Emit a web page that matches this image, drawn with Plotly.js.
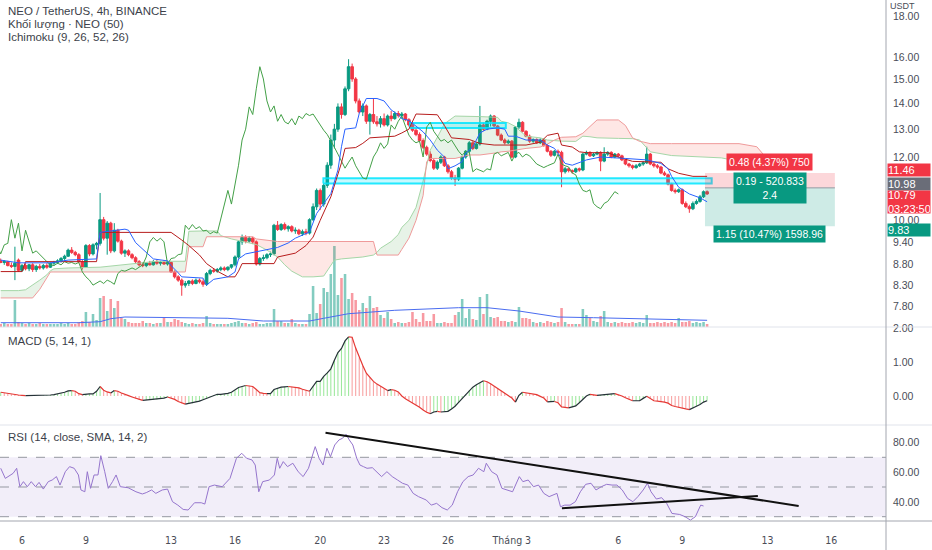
<!DOCTYPE html>
<html><head><meta charset="utf-8">
<script src="https://cdn.plot.ly/plotly-3.0.1.min.js"></script>
<style>html,body{margin:0;padding:0;background:#fff;}#chart{width:932px;height:550px;}</style>
</head><body><div id="chart"></div>
<script>
// ---------- candles (4h bars, bar 0 = 5 Feb 00:00) ----------
const openP=[8.90,8.86,8.88,8.78,8.76,8.92,8.66,8.78,8.70,8.80,8.68,8.76,8.72,8.78,8.74,8.84,8.86,8.90,8.96,9.02,
9.18,9.12,9.06,8.88,8.74,9.30,9.08,9.32,9.36,10.02,9.50,9.92,9.16,9.72,9.42,9.10,9.16,9.06,8.98,8.88,
8.80,8.78,8.84,8.80,8.88,8.84,8.86,8.82,8.86,8.62,8.50,8.42,8.30,8.34,8.40,8.34,8.42,8.38,8.32,8.58,
8.66,8.64,8.68,8.72,8.68,8.74,8.80,9.00,9.40,9.52,9.42,9.50,9.40,8.82,8.96,8.98,9.06,9.08,9.86,9.74,
9.88,9.76,9.82,9.70,9.72,9.62,9.68,9.64,10.02,10.40,10.90,10.48,11.06,11.72,12.60,13.00,13.86,13.56,14.60,15.56,
15.02,14.10,13.66,13.90,13.30,13.56,13.28,13.20,13.40,13.16,13.50,13.40,13.60,13.52,13.58,13.36,13.16,12.96,12.80,12.58,
12.34,12.10,11.88,11.62,11.82,12.00,11.70,11.50,11.30,11.26,11.62,12.00,12.20,12.50,12.30,12.46,13.16,13.00,13.30,13.50,
13.12,12.78,12.60,12.50,12.56,12.00,13.08,13.26,12.92,12.74,12.56,12.62,12.50,12.60,12.40,12.20,12.06,12.20,12.16,11.50,
11.60,11.54,11.50,11.60,11.56,12.10,12.16,12.04,12.10,12.16,11.86,12.10,12.16,12.00,12.10,12.04,11.90,11.76,11.70,11.64,
11.70,11.76,11.80,12.10,11.76,11.70,11.66,11.46,11.40,11.10,10.90,10.86,10.92,10.50,10.40,10.34,10.50,10.56,10.70,10.86];
const highP=[8.96,8.92,8.90,8.86,9.27,8.96,8.82,8.84,8.82,8.84,8.80,8.82,8.82,8.84,8.86,8.90,8.94,9.00,9.06,9.22,
9.26,9.16,9.10,8.92,9.34,9.34,9.36,9.40,10.82,10.10,9.98,9.96,9.92,9.76,9.46,9.20,9.20,9.10,9.02,8.92,
8.86,8.86,8.90,8.92,8.94,8.90,8.92,8.90,8.88,8.66,8.54,8.46,8.40,8.42,8.44,8.46,8.46,8.44,8.62,8.70,
8.72,8.72,8.76,8.76,8.76,8.82,9.04,9.44,9.60,9.58,9.56,9.54,9.44,9.00,9.06,9.10,9.14,9.90,9.98,9.92,
9.94,9.86,9.86,9.80,9.76,9.74,9.76,10.06,10.50,10.96,10.96,11.12,11.82,12.80,13.20,14.00,14.00,14.70,15.90,15.70,
15.10,14.20,14.00,13.96,13.62,14.20,13.50,13.50,13.60,13.56,13.70,13.68,13.70,13.66,13.62,13.42,13.22,13.06,12.88,12.66,
12.40,12.20,11.96,11.88,12.06,12.04,11.76,11.56,11.40,11.66,12.04,12.24,12.56,12.56,12.52,13.90,13.24,13.36,13.56,13.54,
13.16,12.84,12.66,12.62,12.60,13.12,13.40,13.30,12.96,12.80,12.66,12.66,12.66,12.64,12.46,12.24,12.24,12.26,12.22,11.66,
11.64,11.58,11.64,11.64,12.14,12.22,12.20,12.14,12.20,12.20,12.34,12.20,12.20,12.14,12.14,12.08,11.94,11.80,11.74,11.76,
11.80,11.86,12.36,12.14,11.80,11.76,11.70,11.52,11.44,11.14,10.96,10.96,10.96,10.56,10.46,10.56,10.62,10.76,10.90,10.90];
const lowP=[8.84,8.80,8.76,8.72,8.42,8.62,8.62,8.66,8.64,8.62,8.62,8.68,8.68,8.70,8.72,8.78,8.82,8.86,8.90,9.00,
9.08,9.02,8.84,8.68,8.72,9.02,9.04,9.20,9.30,9.44,9.06,9.10,9.12,9.38,9.06,9.00,9.02,8.94,8.84,8.76,
8.74,8.74,8.78,8.78,8.80,8.78,8.80,8.78,8.60,8.46,8.38,8.05,8.24,8.28,8.30,8.32,8.34,8.26,8.28,8.54,
8.60,8.60,8.64,8.64,8.64,8.70,8.76,8.96,9.32,9.36,9.38,9.34,8.78,8.78,8.90,8.94,9.00,9.04,9.70,9.70,
9.72,9.68,9.66,9.62,9.58,9.56,9.58,9.60,9.98,10.30,10.30,10.40,10.98,11.60,12.30,12.90,13.40,13.50,14.50,14.90,
14.00,13.60,13.50,13.20,12.80,13.20,13.10,13.06,13.10,13.10,13.30,13.36,13.44,13.40,13.30,13.10,12.90,12.74,12.52,12.28,
12.04,11.82,11.56,11.56,11.76,11.66,11.44,11.24,11.04,11.20,11.58,11.94,12.14,12.24,12.26,12.40,12.94,12.96,13.10,13.08,
12.74,12.56,12.44,12.46,11.96,11.96,13.00,12.88,12.70,12.50,12.50,12.46,12.46,12.36,12.16,12.00,12.02,12.10,11.00,11.44,
11.48,11.44,11.46,11.50,11.52,12.06,12.00,12.00,12.06,11.52,11.82,12.04,11.96,11.96,11.98,11.86,11.72,11.64,11.58,11.60,
11.66,11.70,11.76,11.72,11.64,11.60,11.42,11.36,11.06,10.86,10.80,10.82,10.46,10.36,10.22,10.30,10.46,10.52,10.66,10.76];
const closeP=[8.86,8.88,8.78,8.76,8.84,8.66,8.78,8.70,8.80,8.68,8.76,8.72,8.78,8.74,8.84,8.86,8.90,8.96,9.02,9.18,
9.12,9.06,8.88,8.74,9.30,9.08,9.32,9.36,10.02,9.50,9.92,9.16,9.72,9.42,9.10,9.16,9.06,8.98,8.88,8.80,
8.78,8.84,8.80,8.88,8.84,8.86,8.82,8.86,8.62,8.50,8.42,8.30,8.34,8.40,8.34,8.42,8.38,8.32,8.58,8.66,
8.64,8.68,8.72,8.68,8.74,8.80,9.00,9.40,9.52,9.42,9.50,9.40,8.82,8.96,8.98,9.06,9.08,9.86,9.74,9.88,
9.76,9.82,9.70,9.72,9.62,9.68,9.64,10.02,10.40,10.90,10.48,11.06,11.72,12.60,13.00,13.86,13.56,14.60,15.56,15.02,
14.10,13.66,13.90,13.30,13.56,13.28,13.20,13.40,13.16,13.50,13.40,13.60,13.52,13.58,13.36,13.16,12.96,12.80,12.58,12.34,
12.10,11.88,11.62,11.82,12.00,11.70,11.50,11.30,11.26,11.62,12.00,12.20,12.50,12.30,12.46,13.16,13.00,13.30,13.50,13.12,
12.78,12.60,12.50,12.56,12.00,13.08,13.26,12.92,12.74,12.56,12.62,12.50,12.60,12.40,12.20,12.06,12.20,12.16,11.50,11.60,
11.54,11.50,11.60,11.56,12.10,12.16,12.04,12.10,12.16,11.86,12.10,12.16,12.00,12.10,12.04,11.90,11.76,11.70,11.64,11.70,
11.76,11.80,12.10,11.76,11.70,11.66,11.46,11.40,11.10,10.90,10.86,10.92,10.50,10.40,10.34,10.50,10.56,10.70,10.86,10.79];
// volume, thousands of NEO
const volumeK=[30,40,30,30,270,50,40,30,40,30, 30,40,30,30,30,30,30,40,30,40,
30,30,50,60,150,50,130,70,290,310, 160,280,190,260,90,80,50,40,40,40,
60,40,40,30,40,40,90,50,50,80, 70,50,40,30,40,30,30,40,110,40,
30,30,30,30,30,40,50,60,40,40, 30,40,50,30,30,40,40,180,60,60,
40,40,80,40,30,30,30,130,410,140, 230,390,350,530,810,320,490,530,280,340,
270,170,240,190,310,190,200,120,90,150, 80,40,50,40,40,50,150,80,50,140,
60,60,130,40,40,50,40,40,120,150, 280,90,180,80,70,300,130,330,100,90,
100,60,60,50,60,50,200,90,90,80, 50,40,50,40,60,50,40,50,190,50,
30,30,30,30,180,120,90,60,50,110, 160,50,40,50,40,50,40,40,50,40,
50,40,120,40,40,50,40,50,40,50, 40,90,50,50,60,40,50,40,50,30];
const volMaBar=[0,22,28,31,35,47,56,64,74,87,91,94,98,102,107,111,129,137,146,152,157,167,176,186,199];
const volMaK=[43,43,53,83,100,93,93,87,60,60,87,110,133,143,160,167,193,193,160,127,100,93,87,77,67];

// ---------- Ichimoku (9, 26, 52, 26) ----------
const tenkanBar=[0,5,14,19,27,28,35,36,38,41,43,47,48,50,51,57,58,60,64,66,67,69,73,78,81,83,87,89,93,95,96,97,100,101,103,106,108,110,112,113,115,117,119,121,123,125,126,128,130,131,133,135,137,140,142,143,145,148,152,154,156,157,159,161,165,169,172,176,182,186,188,189,191,194,197,199];
const tenkanVal=[8.92,8.85,8.85,8.92,8.95,9.66,9.75,9.72,9.38,9.12,8.95,8.90,8.78,8.60,8.50,8.47,8.30,8.44,8.50,8.62,8.95,9.08,9.15,9.25,9.37,9.50,9.67,10.20,10.80,11.56,12.36,13.00,13.05,13.60,14.20,14.20,14.10,13.74,13.55,13.40,13.33,13.10,12.90,12.60,12.24,12.00,11.60,11.70,11.84,12.13,12.35,12.86,13.00,13.05,13.00,12.74,12.74,12.60,12.60,12.42,12.30,12.13,11.78,11.72,11.90,12.00,11.97,11.95,11.90,11.78,11.60,11.35,11.00,10.79,10.67,10.55];
const kijunBar=[0,6,7,27,28,48,51,53,56,58,61,64,66,67,68,77,78,83,86,88,90,93,96,97,100,102,104,111,113,115,117,123,125,127,132,135,139,148,152,154,157,158,161,163,165,171,174,178,186,188,191,195,199];
const kijunVal=[8.63,8.63,8.88,8.88,9.66,9.66,9.45,9.30,9.05,8.83,8.64,8.50,8.50,8.64,8.83,8.83,9.00,9.10,9.30,9.53,10.00,10.70,11.80,12.30,12.33,12.48,12.68,12.74,12.86,13.00,13.58,13.55,13.14,12.68,12.62,12.48,12.42,12.42,12.52,12.77,12.85,12.42,12.35,12.18,12.15,12.15,12.00,11.85,11.82,11.60,11.45,11.35,11.35];
const spanBar=[0,5,7,9,11,13,14,15,19,28,35,41,44,52,53,57,58,61,62,65,71,72,75,77,78,80,82,85,88,91,93,94,96,102,105,106,107,110,112,113,115,117,119,120,121,123,125,128,132,135,140,141,143,145,146,148,152,154,156,158,162,164,166,168,174,176,178,180,181,183,189,203,206,208,213,215,217,224];
const spanA=[8.17,8.17,8.19,8.30,8.42,8.55,8.65,8.70,8.72,8.74,8.80,8.87,8.89,8.89,9.69,9.70,9.70,9.70,9.57,9.48,9.35,9.33,9.18,9.05,9.00,8.80,8.64,8.50,8.50,8.52,8.80,8.92,8.95,9.00,9.05,9.12,9.23,9.41,9.60,9.80,10.00,10.38,11.20,11.70,12.24,12.70,13.20,13.50,13.50,13.48,13.45,13.30,13.24,13.10,12.97,12.74,12.68,12.60,12.58,12.56,12.55,12.74,12.72,12.68,12.66,12.65,12.65,12.60,12.45,12.18,12.05,11.97,11.90,11.88,11.85,11.84,11.83,11.80];
const spanB=[8.00,8.00,8.00,8.00,8.20,8.50,8.62,8.62,8.62,8.62,8.62,8.62,8.62,8.62,9.27,9.27,9.54,9.54,9.54,9.54,9.54,9.48,9.45,9.41,9.41,9.41,9.41,9.41,9.41,9.41,9.41,9.41,9.41,9.41,9.41,9.05,9.05,9.05,9.05,9.20,9.50,10.00,10.74,11.84,11.95,11.95,11.95,11.95,12.07,12.07,12.15,12.18,12.20,12.24,12.26,12.30,12.35,12.45,12.60,12.70,12.72,12.85,13.10,13.35,13.35,13.14,12.68,12.55,12.53,12.47,12.47,12.47,12.47,12.47,12.36,12.07,11.78,11.78];
const laggingShift=25;

// ---------- MACD (5, 14, 1), per bar ----------
const macdVal=[0.11,0.09,0.07,0.05,0.04,0.03,0.02,0.01,0.01,0.01, 0.01,0.01,0.02,0.02,0.03,0.04,0.06,0.08,0.11,0.15,
0.16,0.14,0.07,0.04,0.06,0.06,0.06,0.14,0.28,0.17, 0.12,0.09,0.16,0.14,0.09,0.04,0.01,-0.03,-0.07,-0.11,
-0.13,-0.12,-0.12,-0.11,-0.10,-0.08,-0.06,-0.03,-0.06,-0.10, -0.16,-0.21,-0.24,-0.22,-0.21,-0.18,-0.15,-0.11,-0.07,-0.02,
0.03,0.05,0.05,0.06,0.08,0.11,0.17,0.25,0.28,0.31, 0.30,0.28,0.19,0.10,0.08,0.07,0.07,0.19,0.23,0.26,
0.27,0.28,0.27,0.26,0.24,0.20,0.17,0.14,0.28,0.43, 0.43,0.58,0.68,0.80,1.05,1.28,1.40,1.62,1.74,1.73,
1.41,1.13,0.90,0.67,0.55,0.43,0.35,0.28,0.22,0.16, 0.19,0.17,0.12,0.00,-0.08,-0.14,-0.21,-0.27,-0.33,-0.41,
-0.48,-0.52,-0.47,-0.45,-0.47,-0.46,-0.45,-0.38,-0.30,-0.19, -0.08,0.05,0.17,0.26,0.33,0.39,0.45,0.42,0.36,0.29,
0.22,0.15,0.09,0.02,-0.06,-0.18,0.02,0.11,0.09,0.06, 0.05,0.04,-0.01,-0.06,-0.17,-0.17,-0.16,-0.20,-0.32,-0.34,
-0.35,-0.33,-0.29,-0.20,-0.09,0.00,0.05,0.04,0.02,0.03, 0.06,0.06,0.07,0.07,0.04,0.00,-0.05,-0.10,-0.14,-0.14,
-0.14,-0.07,-0.01,-0.08,-0.14,-0.15,-0.16,-0.18,-0.21,-0.28, -0.31,-0.34,-0.37,-0.38,-0.40,-0.36,-0.30,-0.25,-0.18,-0.14];

// ---------- RSI (14, close, SMA, 14, 2) ----------
const rsiBar=[0,1.3,3.5,4.5,5.4,6.4,7.5,8.6,9.8,10.8, 12,13.4,14.5,15.7,16.7,18.2,19.4,20.7,21.9,22.6,
23.7,24.4,25.3,26.3,27.4,28.2,29.3,30.3,31.5,32.5, 33.7,35.9,38.1,39.9,41,42.5,43.7,45.5,47,48.4,
49.9,51.4,52.8,54.6,56.5,57.5,58.7,60.2,62.4,64.6, 66.4,67.9,69.3,70.8,71.7,72.7,73.8,75.7,77.1,77.9,
78.6,79.6,80.8,82.3,83.8,85.2,86.7,87.5,88.6,89.7, 90.8,91.9,92.9,94.1,95.3,96.3,97.3,98.2,99.2,100.3,
101.2,102.2,103.2,104.7,105.9,107.3,108.8,110.3,111.8,113.2, 114.7,116.2,117.7,119.9,121.3,122.8,124.3,125.8,127.2,128.7,
130.2,131.7,133.1,134.6,136.1,136.8,138.3,139.8,141.2,142.7, 144.2,146.1,147.1,148.6,150.1,151.5,153,154.5,156.7,157.7,
158.9,160.4,161.9,163.3,164.8,166.3,167.7,169.2,170.7,172.2, 173.6,175.1,176.6,178.1,179.5,181,182.2,183.2,184.7,186.2,
187.6,189.1,191.3,192.8,194.3,195.7,197.2,198];
const rsiVal=[62.6,55.8,59.2,62.6,50.2,53.6,50.2,53.6,50.2,53.1, 48.6,53.6,54.7,57.0,51.3,60.3,63.7,62.6,58.1,48.0,
46.8,60.3,49.1,58.1,58.1,71.1,60.3,49.1,53.6,58.1, 50.2,49.5,46.8,45.3,46.2,48.0,45.7,48.0,48.6,40.1,
37.8,34.9,34.5,39.4,39.4,38.5,50.2,51.3,50.2,55.8, 69.3,72.7,69.3,68.2,64.8,46.8,53.6,54.7,58.1,69.3,
62.6,67.1,63.7,66.0,60.3,57.0,62.6,69.3,77.2,69.3, 64.8,76.1,70.4,78.3,81.7,82.8,85.5,81.7,78.3,69.3,
64.8,63.7,62.6,63.0,60.3,57.0,60.3,57.0,54.7,52.5, 51.3,45.7,43.5,41.2,37.8,39.0,36.1,34.5,37.8,46.8,
53.6,57.0,58.1,62.6,60.3,66.0,60.3,58.1,49.1,48.0, 46.8,57.0,53.6,54.7,50.2,51.3,45.7,43.5,45.7,36.7,
37.8,37.8,40.1,46.8,51.8,52.5,48.0,50.2,51.8,51.3, 51.3,48.0,42.3,40.1,43.5,48.0,52.5,46.8,41.9,42.8,
39.0,32.2,31.5,30.0,27.7,30.0,37.8,37.2];
const rsiLevels=[70,50,30];
const rsiTrendBars=[[91.5,224.8],[158.1,213.3]];
const rsiTrendVals=[[86.6,37.2],[35.7,44.0]];

// ---------- drawings ----------
const zoneBar0=[115.3,90.9], zoneBar1=[142.3,200.3], zoneLo=[13.04,11.12], zoneHi=[13.23,11.29];
const posStartBar=198.4, posEndBar=235, posEntry=10.98, posStop=11.46, posTarget=9.83;
const posTexts=['0.48 (4.37%) 750','0.19 - 520.833<br>2.4','1.15 (10.47%) 1598.96'];
const countdown='03:23:50';

// ---------- axes ----------
const dayTickBars=[6,24,48,66,90,108,126,144,174,192,216,234];
const dayTickText=['6','9','13','16','20','23','26','Tháng 3','6','9','13','16'];
const priceTicks=[7.8,8.3,8.8,9.4,10,12,13,14,15,16,18];
const macdTicks=[0,1,2];
const rsiTicks=[40,60,80];
const legendLines=['NEO / TetherUS, 4h, BINANCE','Khối lượng · NEO (50)','Ichimoku (9, 26, 52, 26)'];

// ================= build =================
const N=closeP.length;
const bars=closeP.map((_,i)=>i);
const UP='#089981', DN='#f23645';
const traces=[];
const H=521, W=886; // plot area px
const py=p=>1-p/H;

// cloud fills
(function(){
  let seg=null;
  const push=()=>{ if(seg && seg.x.length>1){
    traces.push({type:'scatter',mode:'none',x:seg.x.concat(seg.x.slice().reverse()),y:seg.a.concat(seg.b.slice().reverse()),
      fill:'toself',fillcolor:seg.up?'rgba(67,160,71,0.13)':'rgba(244,67,54,0.13)',yaxis:'y5',hoverinfo:'skip'});}};
  for(let k=0;k<spanBar.length;k++){
    const up=spanA[k]>=spanB[k];
    if(!seg){seg={up,x:[spanBar[k]],a:[spanA[k]],b:[spanB[k]]};continue;}
    if(up===seg.up){seg.x.push(spanBar[k]);seg.a.push(spanA[k]);seg.b.push(spanB[k]);}
    else{
      const d0=spanA[k-1]-spanB[k-1], d1=spanA[k]-spanB[k], t=d0/(d0-d1);
      const xc=spanBar[k-1]+t*(spanBar[k]-spanBar[k-1]), yc=spanA[k-1]+t*(spanA[k]-spanA[k-1]);
      seg.x.push(xc);seg.a.push(yc);seg.b.push(yc);push();
      seg={up,x:[xc,spanBar[k]],a:[yc,spanA[k]],b:[yc,spanB[k]]};
    }
  }
  push();
})();
traces.push({type:'scatter',mode:'lines',x:spanBar,y:spanA,yaxis:'y5',line:{color:'#A5D6A7',width:1},hoverinfo:'skip'});
traces.push({type:'scatter',mode:'lines',x:spanBar,y:spanB,yaxis:'y5',line:{color:'#EF9A9A',width:1},hoverinfo:'skip'});

// volume
traces.push({type:'bar',x:bars,y:volumeK,yaxis:'y',width:0.72,
  marker:{color:bars.map(i=>closeP[i]>=openP[i]?'rgba(8,153,129,0.5)':'rgba(242,54,69,0.5)'),line:{width:0}},hoverinfo:'skip'});
traces.push({type:'scatter',mode:'lines',x:volMaBar,y:volMaK,yaxis:'y',line:{color:'#4a6cf0',width:1},hoverinfo:'skip'});

// cyan zones
for(let z=0;z<zoneBar0.length;z++){
  traces.push({type:'scatter',mode:'lines',x:[zoneBar0[z],zoneBar1[z],zoneBar1[z],zoneBar0[z],zoneBar0[z]],
    y:[zoneLo[z],zoneLo[z],zoneHi[z],zoneHi[z],zoneLo[z]],yaxis:'y5',fill:'toself',fillcolor:'rgba(0,229,255,0.22)',
    line:{color:'rgba(0,229,255,0.85)',width:2},hoverinfo:'skip'});
}
// position tool
traces.push({type:'scatter',mode:'none',x:[posStartBar,posEndBar,posEndBar,posStartBar],y:[posEntry,posEntry,posStop,posStop],
  yaxis:'y5',fill:'toself',fillcolor:'rgba(242,54,69,0.2)',hoverinfo:'skip'});
traces.push({type:'scatter',mode:'none',x:[posStartBar,posEndBar,posEndBar,posStartBar],y:[posTarget,posTarget,posEntry,posEntry],
  yaxis:'y5',fill:'toself',fillcolor:'rgba(8,153,129,0.2)',hoverinfo:'skip'});
traces.push({type:'scatter',mode:'lines',x:[posStartBar,posEndBar],y:[posEntry,posEntry],yaxis:'y5',line:{color:'#9598a1',width:1},hoverinfo:'skip'});

// ichimoku lines
traces.push({type:'scatter',mode:'lines',x:bars.map(i=>i-laggingShift),y:closeP,yaxis:'y5',line:{color:'#43A047',width:1},hoverinfo:'skip'});
traces.push({type:'scatter',mode:'lines',x:kijunBar,y:kijunVal,yaxis:'y5',line:{color:'#B71C1C',width:1},hoverinfo:'skip'});
traces.push({type:'scatter',mode:'lines',x:tenkanBar,y:tenkanVal,yaxis:'y5',line:{color:'#2962FF',width:1},hoverinfo:'skip'});

// candles
traces.push({type:'candlestick',x:bars,open:openP,high:highP,low:lowP,close:closeP,yaxis:'y5',whiskerwidth:0,
  increasing:{line:{color:UP,width:1},fillcolor:UP},decreasing:{line:{color:DN,width:1},fillcolor:DN},hoverinfo:'skip'});

// MACD
traces.push({type:'bar',x:bars,y:macdVal,yaxis:'y2',width:0.3,
  marker:{color:bars.map(i=>(i===0||macdVal[i]>=macdVal[i-1])?'rgba(60,210,60,0.5)':'rgba(242,70,70,0.5)'),line:{width:0}},hoverinfo:'skip'});
(function(){
  let cur=null;
  for(let i=1;i<N;i++){
    const up=macdVal[i]>=macdVal[i-1];
    if(!cur||cur.up!==up){cur={up,x:[i-1],y:[macdVal[i-1]]};
      traces.push({type:'scatter',mode:'lines',x:cur.x,y:cur.y,yaxis:'y2',line:{color:up?'#263238':'#e53935',width:1.2},hoverinfo:'skip'});}
    cur.x.push(i);cur.y.push(macdVal[i]);
  }
})();

// RSI
traces.push({type:'scatter',mode:'lines',x:rsiBar,y:rsiVal,yaxis:'y3',line:{color:'#9575CD',width:1},hoverinfo:'skip'});
for(let t=0;t<rsiTrendBars.length;t++){
  traces.push({type:'scatter',mode:'lines',x:rsiTrendBars[t],y:rsiTrendVals[t],yaxis:'y3',line:{color:'#111',width:2},hoverinfo:'skip'});
}

const fam='"Liberation Sans", Arial, sans-serif';
const narrow='"Liberation Sans Narrow", "DejaVu Sans Condensed", "Liberation Sans", sans-serif';
const axisCommon={showgrid:false,zeroline:false,showline:false,ticks:'',fixedrange:true,side:'right',anchor:'x',
  tickfont:{family:fam,size:10.5,color:'#4a4d57'},ticklabelstandoff:6};

const shapes=[];
shapes.push({type:'rect',xref:'paper',x0:0,x1:1,yref:'y3',y0:rsiLevels[2],y1:rsiLevels[0],fillcolor:'rgba(126,87,194,0.1)',line:{width:0},layer:'below'});
rsiLevels.forEach(v=>shapes.push({type:'line',xref:'paper',x0:0,x1:1,yref:'y3',y0:v,y1:v,line:{color:'#9598a1',width:1,dash:'dash'},layer:'below'}));
[327,425].forEach(p=>shapes.push({type:'line',xref:'paper',x0:0,x1:932/W,yref:'paper',y0:py(p),y1:py(p),line:{color:'#e0e3eb',width:1}}));
shapes.push({type:'line',xref:'paper',x0:0,x1:932/W,yref:'paper',y0:0,y1:0,line:{color:'#a3a6af',width:1}});
shapes.push({type:'line',xref:'paper',x0:1,x1:1,yref:'paper',y0:py(550),y1:1,line:{color:'#a3a6af',width:1}});
const lastClose=closeP[N-1];
shapes.push({type:'line',xref:'paper',x0:0,x1:1,yref:'y5',y0:Math.log10(lastClose),y1:Math.log10(lastClose),line:{color:'rgba(242,54,69,0.7)',width:1,dash:'dot'}});

const ann=[];
legendLines.forEach((t,k)=>ann.push({xref:'paper',yref:'paper',x:6/W,y:py(11+13*k),xanchor:'left',yanchor:'middle',text:t,showarrow:false,font:{family:fam,size:11.5,color:'#3c3f4a'}}));
ann.push({xref:'paper',yref:'paper',x:6/W,y:py(341),xanchor:'left',yanchor:'middle',text:'MACD (5, 14, 1)',showarrow:false,font:{family:fam,size:11.5,color:'#3c3f4a'}});
ann.push({xref:'paper',yref:'paper',x:6/W,y:py(437),xanchor:'left',yanchor:'middle',text:'RSI (14, close, SMA, 14, 2)',showarrow:false,font:{family:fam,size:11.5,color:'#3c3f4a'}});
ann.push({xref:'paper',yref:'paper',x:1,xshift:2,y:py(5),xanchor:'left',yanchor:'middle',text:'USDT',showarrow:false,width:40,height:9,align:'left',font:{family:fam,size:9,color:'#4a4d57'}});
const priceBox=(v,txt,bg,h,ya,ys)=>ann.push({xref:'paper',yref:'y5',x:1,xshift:1,y:Math.log10(v),xanchor:'left',yanchor:ya||'middle',yshift:ys||0,
  text:txt,showarrow:false,bgcolor:bg,width:42,height:h,align:'left',borderpad:0,font:{family:fam,size:11,color:'#fff'}});
priceBox(posStop,posStop.toFixed(2),DN,12,'middle',3);
priceBox(posEntry,posEntry.toFixed(2),'#6a6d78',12,'middle',4);
priceBox(lastClose,lastClose.toFixed(2)+'<br>'+countdown,DN,22,'top',4);
priceBox(posTarget,posTarget.toFixed(2),UP,12,'middle',-4);
const mid=(posStartBar+posEndBar)/2;
ann.push({xref:'x',yref:'y5',x:mid,y:Math.log10(posStop),yanchor:'bottom',yshift:2,text:posTexts[0],showarrow:false,bgcolor:DN,borderpad:2,font:{family:fam,size:10.5,color:'#fff'}});
ann.push({xref:'x',yref:'y5',x:mid,y:Math.log10(posEntry),yanchor:'middle',yshift:0,text:posTexts[1],showarrow:false,bgcolor:UP,borderpad:2,font:{family:fam,size:10.5,color:'#fff'}});
ann.push({xref:'x',yref:'y5',x:mid,y:Math.log10(posTarget),yanchor:'top',yshift:1,text:posTexts[2],showarrow:false,bgcolor:UP,borderpad:2,font:{family:fam,size:10.5,color:'#fff'}});

const layout={
  width:932,height:550,margin:{l:0,r:46,t:0,b:29},paper_bgcolor:'#fff',plot_bgcolor:'#fff',showlegend:false,hovermode:false,
  font:{family:fam,color:'#131722'},boxgap:0.15,boxgroupgap:0.15,
  xaxis:{domain:[0,1],range:[-0.2,249.4],anchor:'y3',tickvals:dayTickBars,ticktext:dayTickText,showgrid:false,zeroline:false,
    showline:false,ticks:'',fixedrange:true,rangeslider:{visible:false},tickfont:{family:narrow,size:10.5,color:'#4a4d57'},ticklabelstandoff:11},
  yaxis:{domain:[py(327),1],range:[0,3270],visible:false,fixedrange:true},
  yaxis5:Object.assign({},axisCommon,{overlaying:'y',type:'log',range:[Math.log10(7.358),Math.log10(18.852)],
    tickvals:priceTicks,ticktext:priceTicks.map(v=>v.toFixed(2))}),
  yaxis2:Object.assign({},axisCommon,{domain:[py(425),py(327)],range:[-0.853,2.03],tickvals:macdTicks,ticktext:macdTicks.map(v=>v.toFixed(2))}),
  yaxis3:Object.assign({},axisCommon,{domain:[0,py(425)],range:[27.1,91.75],tickvals:rsiTicks,ticktext:rsiTicks.map(v=>v.toFixed(2))}),
  shapes:shapes,annotations:ann
};
Plotly.newPlot('chart',traces,layout,{displayModeBar:false,staticPlot:true});
</script></body></html>
